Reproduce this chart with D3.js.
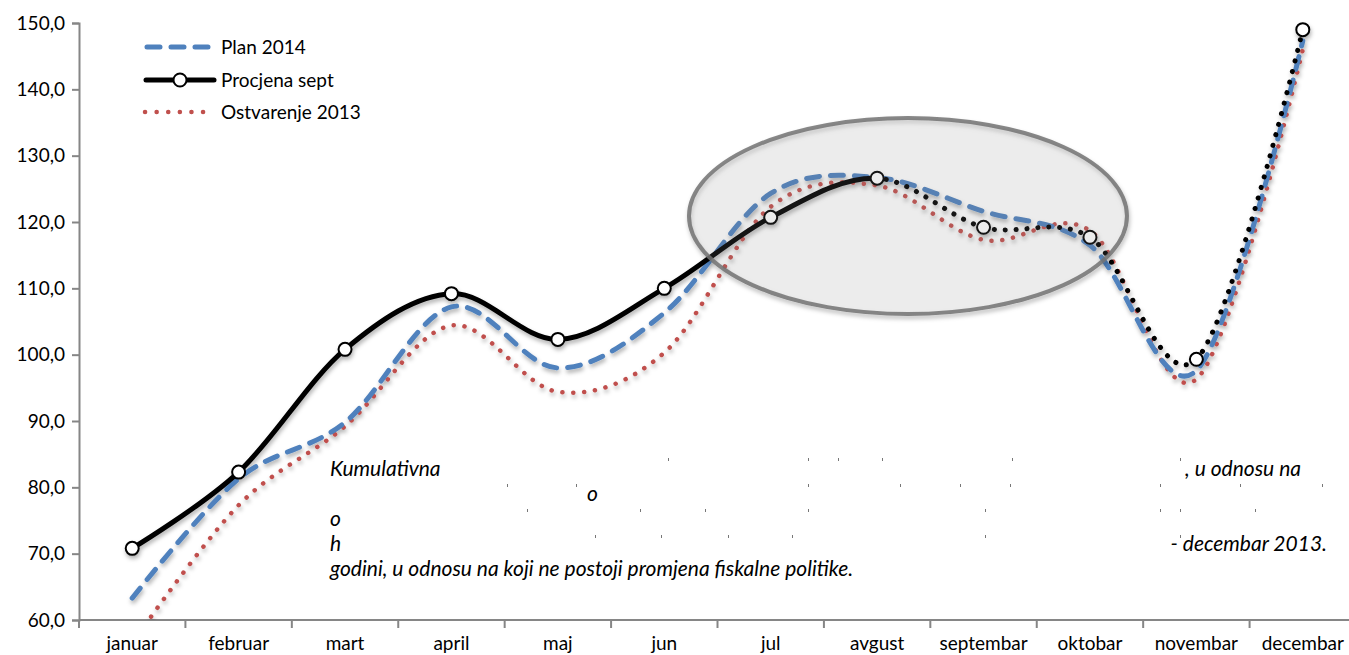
<!DOCTYPE html>
<html>
<head>
<meta charset="utf-8">
<script src="https://cdn.jsdelivr.net/npm/d3@7/dist/d3.min.js"></script>
<style>
  html, body { margin: 0; padding: 0; background: #fff; }
  svg { display: block; font-family: Lato, "Open Sans", sans-serif; }
</style>
</head>
<body>
<svg id="chart" width="1349" height="655"></svg>
<script>
// ---- data ----
const months = ["januar","februar","mart","april","maj","jun","jul","avgust","septembar","oktobar","novembar","decembar"];
const plan2014 = [63.3, 81.3, 89.8, 107.2, 98.0, 106.3, 124.3, 126.7, 121.6, 116.5, 97.6, 147.3];
const procjenaSept = [70.8, 82.3, 100.8, 109.2, 102.3, 110.0, 120.7, 126.6, 119.2, 117.7, 99.3, 149.0];
const ostvarenje2013 = [56.5, 77.3, 89.2, 104.4, 94.4, 100.3, 122.3, 125.5, 117.3, 118.7, 96.3, 146.0];
const yTicks = [60, 70, 80, 90, 100, 110, 120, 130, 140, 150];
const seriesNames = ["Plan 2014", "Procjena sept", "Ostvarenje 2013"];
const noteLeft = ["Kumulativna", "", "o", "h", "godini, u odnosu na koji ne postoji promjena fiskalne politike."];
const noteMid = ["", "o", "", "", ""];
const noteRight = [", u odnosu na", "", "", "- decembar 2013.", ""];

// ---- layout ----
const svg = d3.select("#chart");
const pLeft = 79, pRight = 1356, pTop = 23, pBottom = 620;
const x = d3.scalePoint().domain(months).range([pLeft, pRight]).padding(0.5);
const step = x.step();
const y = d3.scaleLinear().domain([60, 150]).range([pBottom, pTop]);
const fmt = v => d3.format(".1f")(v).replace(".", ",");

const defs = svg.append("defs");
const sh = defs.append("filter").attr("id", "shadow").attr("x", "-10%").attr("y", "-10%").attr("width", "120%").attr("height", "130%");
sh.append("feDropShadow").attr("dx", 1).attr("dy", 3).attr("stdDeviation", 2).attr("flood-color", "#000").attr("flood-opacity", 0.3);
defs.append("clipPath").attr("id", "plot").append("rect").attr("x", pLeft).attr("y", 0).attr("width", 1349 - pLeft).attr("height", pBottom);
const xa = x("avgust");
defs.append("clipPath").attr("id", "solidPart").append("rect").attr("x", 0).attr("y", 0).attr("width", xa).attr("height", pBottom);
defs.append("clipPath").attr("id", "dotPart").append("rect").attr("x", xa).attr("y", 0).attr("width", 1349 - xa).attr("height", pBottom);

// ---- axes ----
const yAxis = d3.axisLeft(y).tickValues(yTicks).tickSize(7).tickFormat(fmt);
const gy = svg.append("g").attr("transform", `translate(${pLeft},0)`).call(yAxis);
gy.select(".domain").attr("stroke", "#868686").attr("stroke-width", 2);
gy.selectAll(".tick line").attr("stroke", "#868686").attr("stroke-width", 2);
gy.selectAll(".tick text").attr("x", -14).attr("font-size", 19).attr("fill", "#000").attr("font-family", "Lato, sans-serif");

const xBound = d3.scaleLinear().domain([0, 12]).range([pLeft, pLeft + 12 * step]);
const gx = svg.append("g").attr("transform", `translate(0,${pBottom})`);
gx.append("line").attr("x1", pLeft).attr("x2", 1349).attr("stroke", "#868686").attr("stroke-width", 2);
gx.selectAll("line.t").data(d3.range(0, 12)).join("line").attr("class", "t")
  .attr("x1", d => xBound(d)).attr("x2", d => xBound(d)).attr("y1", 0).attr("y2", 8)
  .attr("stroke", "#868686").attr("stroke-width", 2);
gx.selectAll("text").data(months).join("text")
  .attr("x", d => x(d)).attr("y", 30).attr("text-anchor", "middle")
  .attr("font-size", 19).attr("fill", "#000").text(d => d);

// ---- lines ----
const line = d3.line().x((d, i) => x(months[i])).y(d => y(d)).curve(d3.curveCardinal.tension(0));
const lines = svg.append("g").attr("clip-path", "url(#plot)");
const g1 = lines.append("g").attr("filter", "url(#shadow)");
g1.append("path").datum(ostvarenje2013).attr("d", line).attr("fill", "none")
  .attr("stroke", "#c0504d").attr("stroke-width", 4.5).attr("stroke-linecap", "round")
  .attr("stroke-dasharray", "0.1 10.8");
g1.append("path").datum(plan2014).attr("d", line).attr("fill", "none")
  .attr("stroke", "#4f81bd").attr("stroke-width", 5).attr("stroke-linecap", "round")
  .attr("stroke-dasharray", "13 11");
const gs = g1.append("g").attr("clip-path", "url(#solidPart)");
gs.append("path").datum(procjenaSept).attr("d", line).attr("fill", "none")
  .attr("stroke", "#000").attr("stroke-width", 5).attr("stroke-linecap", "round");
const gd = g1.append("g").attr("clip-path", "url(#dotPart)");
gd.append("path").datum(procjenaSept).attr("d", line).attr("fill", "none")
  .attr("stroke", "#000").attr("stroke-width", 5).attr("stroke-linecap", "round")
  .attr("stroke-dasharray", "0.1 10.8");
g1.selectAll("circle").data(procjenaSept).join("circle")
  .attr("cx", (d, i) => x(months[i])).attr("cy", d => y(d)).attr("r", 6.5)
  .attr("fill", "#fff").attr("stroke", "#000").attr("stroke-width", 2);

// ---- highlight ellipse ----
svg.append("ellipse").attr("cx", x("avgust") + 0.29 * step).attr("cy", y(120.9))
  .attr("rx", 219).attr("ry", 98)
  .attr("fill", "rgba(150,150,150,0.12)").attr("stroke", "rgba(115,115,115,0.85)").attr("stroke-width", 4)
  .attr("filter", "url(#shadow)");

// ---- legend ----
const leg = svg.append("g");
const ly = [47, 80, 112];
leg.append("line").attr("x1", 147).attr("x2", 208).attr("y1", ly[0]).attr("y2", ly[0])
  .attr("stroke", "#4f81bd").attr("stroke-width", 5).attr("stroke-linecap", "round").attr("stroke-dasharray", "13 11");
leg.append("line").attr("x1", 146).attr("x2", 214).attr("y1", ly[1]).attr("y2", ly[1])
  .attr("stroke", "#000").attr("stroke-width", 5).attr("stroke-linecap", "round");
leg.append("circle").attr("cx", 180).attr("cy", ly[1]).attr("r", 6.5).attr("fill", "#fff").attr("stroke", "#000").attr("stroke-width", 2);
leg.append("line").attr("x1", 145).attr("x2", 210).attr("y1", ly[2]).attr("y2", ly[2])
  .attr("stroke", "#c0504d").attr("stroke-width", 4.5).attr("stroke-linecap", "round").attr("stroke-dasharray", "0.1 11.5");
leg.selectAll("text").data(seriesNames).join("text")
  .attr("x", 221).attr("y", (d, i) => ly[i] + 7).attr("font-size", 19).attr("fill", "#000").text(d => d);

// ---- note text ----
const note = svg.append("g").attr("font-style", "italic").attr("font-size", 21).attr("fill", "#000");
const nBase = [476, 501, 526, 551, 576];
note.selectAll("text.l").data(noteLeft).join("text").attr("class", "l")
  .attr("x", 330).attr("y", (d, i) => nBase[i]).text(d => d);
note.selectAll("text.m").data(noteMid).join("text").attr("class", "m")
  .attr("x", 587).attr("y", (d, i) => nBase[i]).text(d => d);
note.selectAll("text.r").data(noteRight).join("text").attr("class", "r")
  .attr("x", (d, i) => i === 3 ? 1327 : 1301).attr("y", (d, i) => nBase[i])
  .attr("text-anchor", "end").text(d => d);
const specks = [
  [668, 808, 838, 882, 1012, 1180],
  [507, 576, 808, 900, 960, 1010, 1160, 1240, 1322],
  [527, 640, 705, 808, 985, 1160, 1180, 1255],
  [595, 661, 728, 792, 985, 1180]
];
const speckY = [458, 484, 509, 535];
specks.forEach((row, r) => {
  svg.append("g").selectAll("rect").data(row).join("rect")
    .attr("x", d => d).attr("y", speckY[r]).attr("width", 1).attr("height", 3).attr("fill", "#777");
});
</script>
</body>
</html>
